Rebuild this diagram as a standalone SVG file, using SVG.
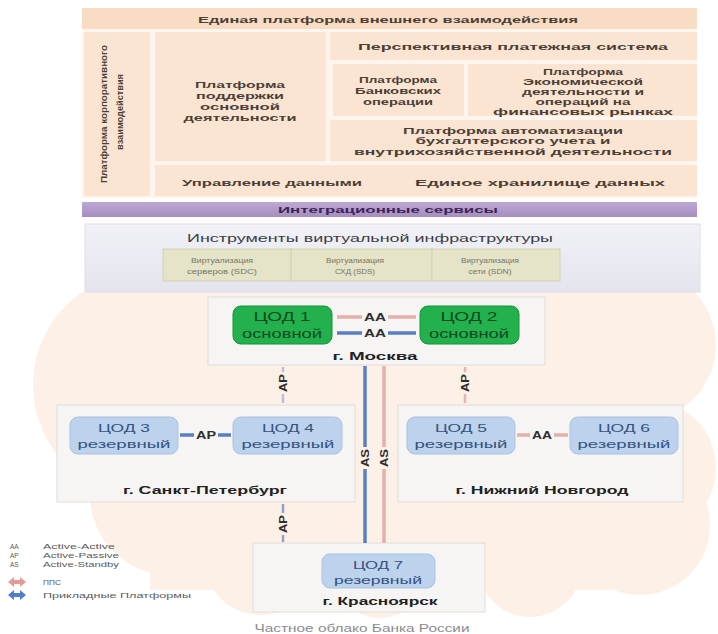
<svg xmlns="http://www.w3.org/2000/svg" width="718" height="634" viewBox="0 0 718 634">
<defs>
<style>
.t{font-family:"Liberation Sans",Arial,sans-serif;text-anchor:middle;dominant-baseline:central}
.tp{font-size:9.5px;font-weight:bold;fill:#4a3f37}
.cell{fill:#fbe4d1}
.sub{fill:#e5e3c8;stroke:#d3d1b0;stroke-width:1}
.subt{font-size:7px;fill:#77755f}
.city{fill:#f7f5f4;stroke:#e0dcd9;stroke-width:1}
.green{fill:#22b14c;stroke:#14923a;stroke-width:1}
.gt{font-size:12px;fill:#0e4a1f}
.blue{fill:#bdd2ec;stroke:#a9c1e1;stroke-width:1}
.bt{font-size:11px;fill:#34527e}
.lbl{font-size:10px;font-weight:bold;fill:#2e2e2e}
.cityt{font-size:10px;font-weight:bold;fill:#222222}
.pink{stroke:#e3b0aa;stroke-width:3.5;fill:none}
.bl{stroke:#5a7fc0;stroke-width:3.5;fill:none}
.lg{font-family:"Liberation Sans",Arial,sans-serif;font-size:6.5px;fill:#5a5a5a;dominant-baseline:central}
</style>
<linearGradient id="infra" x1="0" y1="0" x2="0" y2="1">
<stop offset="0" stop-color="#f1f1f7"/><stop offset="1" stop-color="#e4e4ee"/>
</linearGradient>
<linearGradient id="purp" x1="0" y1="0" x2="0" y2="1">
<stop offset="0" stop-color="#bda8d2"/><stop offset="1" stop-color="#a68ec0"/>
</linearGradient>
</defs>
<rect width="718" height="634" fill="#ffffff"/>

<!-- cloud -->
<g id="cloud" fill="#fdf0e6">
<circle cx="145" cy="385" r="112"/>
<circle cx="170" cy="495" r="80"/>
<circle cx="260" cy="560" r="55"/>
<circle cx="380" cy="570" r="48"/>
<circle cx="530" cy="565" r="52"/>
<circle cx="640" cy="525" r="70"/>
<circle cx="648" cy="468" r="68"/>
<circle cx="640" cy="345" r="76"/>
<circle cx="250" cy="330" r="60"/>
<rect x="150" y="288" width="510" height="302"/>
</g>

<!-- top platform panel -->
<g id="platforms">
<rect x="82" y="8" width="615" height="190" fill="#fef5ee"/>
<g id="external">
<rect x="82" y="8" width="615" height="21" fill="#f9dcc4"/>
<text class="t tp" x="388" y="19" textLength="380" lengthAdjust="spacingAndGlyphs">Единая платформа внешнего взаимодействия</text>
</g>
<g id="corporate">
<rect class="cell" x="84" y="32" width="66" height="164"/>
<text class="t tp" transform="translate(103 114) rotate(-90)" textLength="138" lengthAdjust="spacingAndGlyphs">Платформа корпоративного</text>
<text class="t tp" transform="translate(119 112) rotate(-90)" textLength="76" lengthAdjust="spacingAndGlyphs">взаимодействия</text>
</g>
<g id="core">
<rect class="cell" x="155" y="32" width="171" height="129"/>
<text class="t tp" x="240" y="84" textLength="90" lengthAdjust="spacingAndGlyphs">Платформа</text>
<text class="t tp" x="240" y="95" textLength="88" lengthAdjust="spacingAndGlyphs">поддержки</text>
<text class="t tp" x="240" y="106" textLength="80" lengthAdjust="spacingAndGlyphs">основной</text>
<text class="t tp" x="240" y="117" textLength="113" lengthAdjust="spacingAndGlyphs">деятельности</text>
</g>
<g id="payments">
<rect class="cell" x="330" y="32" width="367" height="28"/>
<text class="t tp" x="513" y="46" textLength="310" lengthAdjust="spacingAndGlyphs">Перспективная платежная система</text>
</g>
<g id="banking">
<rect class="cell" x="333" y="64" width="131" height="52"/>
<text class="t tp" x="398" y="79" textLength="78" lengthAdjust="spacingAndGlyphs">Платформа</text>
<text class="t tp" x="398" y="90" textLength="86" lengthAdjust="spacingAndGlyphs">Банковских</text>
<text class="t tp" x="398" y="101" textLength="70" lengthAdjust="spacingAndGlyphs">операции</text>
</g>
<g id="economic">
<rect class="cell" x="468" y="64" width="229" height="52"/>
<text class="t tp" x="583" y="71" textLength="80" lengthAdjust="spacingAndGlyphs">Платформа</text>
<text class="t tp" x="583" y="81" textLength="120" lengthAdjust="spacingAndGlyphs">Экономической</text>
<text class="t tp" x="583" y="91" textLength="122" lengthAdjust="spacingAndGlyphs">деятельности и</text>
<text class="t tp" x="583" y="101" textLength="95" lengthAdjust="spacingAndGlyphs">операций на</text>
<text class="t tp" x="583" y="111" textLength="180" lengthAdjust="spacingAndGlyphs">финансовых рынках</text>
</g>
<g id="accounting">
<rect class="cell" x="330" y="120" width="367" height="41"/>
<text class="t tp" x="513" y="130" textLength="220" lengthAdjust="spacingAndGlyphs">Платформа автоматизации</text>
<text class="t tp" x="513" y="140" textLength="195" lengthAdjust="spacingAndGlyphs">бухгалтерского учета и</text>
<text class="t tp" x="513" y="151" textLength="318" lengthAdjust="spacingAndGlyphs">внутрихозяйственной деятельности</text>
</g>
<g id="data">
<rect class="cell" x="155" y="165" width="542" height="31"/>
<text class="t tp" x="272" y="182" textLength="180" lengthAdjust="spacingAndGlyphs">Управление данными</text>
<text class="t tp" x="540" y="182" textLength="250" lengthAdjust="spacingAndGlyphs">Единое хранилище данных</text>
</g>
</g>

<g id="integration">
<rect x="82" y="202" width="615" height="15" fill="url(#purp)"/>
<text class="t" x="388" y="210" font-size="9" font-weight="bold" fill="#3b2457" textLength="220" lengthAdjust="spacingAndGlyphs">Интеграционные сервисы</text>
</g>

<g id="infra-tools">
<rect x="85" y="224" width="615" height="68" fill="url(#infra)" stroke="#dedee8"/>
<text class="t" x="370" y="238" font-size="11" fill="#3d3d45" textLength="366" lengthAdjust="spacingAndGlyphs">Инструменты виртуальной инфраструктуры</text>
<g id="sdc">
<rect class="sub" x="163" y="249" width="128" height="32"/>
<text class="t subt" x="222" y="260" textLength="62" lengthAdjust="spacingAndGlyphs">Виртуализация</text>
<text class="t subt" x="222" y="271" textLength="70" lengthAdjust="spacingAndGlyphs">серверов (SDC)</text>
</g>
<g id="sds">
<rect class="sub" x="291" y="249" width="141" height="32"/>
<text class="t subt" x="355" y="260" textLength="58" lengthAdjust="spacingAndGlyphs">Виртуализация</text>
<text class="t subt" x="355" y="271" textLength="40" lengthAdjust="spacingAndGlyphs">СХД (SDS)</text>
</g>
<g id="sdn">
<rect class="sub" x="432" y="249" width="128" height="32"/>
<text class="t subt" x="490" y="260" textLength="58" lengthAdjust="spacingAndGlyphs">Виртуализация</text>
<text class="t subt" x="490" y="271" textLength="43" lengthAdjust="spacingAndGlyphs">сети (SDN)</text>
</g>
</g>

<!-- city boxes -->
<g id="moscow">
<rect class="city" x="208" y="297" width="337" height="68"/>
<text class="t cityt" x="375" y="356" textLength="85" lengthAdjust="spacingAndGlyphs">г. Москва</text>
</g>
<g id="spb">
<rect class="city" x="57" y="405" width="298" height="97"/>
<text class="t cityt" x="205" y="490" textLength="164" lengthAdjust="spacingAndGlyphs">г. Санкт-Петербург</text>
</g>
<g id="nn">
<rect class="city" x="398" y="405" width="285" height="97"/>
<text class="t cityt" x="542" y="490" textLength="173" lengthAdjust="spacingAndGlyphs">г. Нижний Новгород</text>
</g>
<g id="krasnoyarsk">
<rect class="city" x="253" y="543" width="232" height="69"/>
<text class="t cityt" x="380" y="601" textLength="115" lengthAdjust="spacingAndGlyphs">г. Красноярск</text>
</g>

<!-- data centres -->
<g id="dc1">
<rect class="green" x="233" y="306" width="99" height="38" rx="8"/>
<text class="t gt" x="282" y="317" textLength="57" lengthAdjust="spacingAndGlyphs">ЦОД 1</text>
<text class="t gt" x="282" y="334" textLength="80" lengthAdjust="spacingAndGlyphs">основной</text>
</g>
<g id="dc2">
<rect class="green" x="420" y="306" width="99" height="38" rx="8"/>
<text class="t gt" x="469" y="317" textLength="57" lengthAdjust="spacingAndGlyphs">ЦОД 2</text>
<text class="t gt" x="469" y="334" textLength="80" lengthAdjust="spacingAndGlyphs">основной</text>
</g>
<g id="dc3">
<rect class="blue" x="70" y="417" width="108" height="37" rx="8"/>
<text class="t bt" x="124" y="428" textLength="52" lengthAdjust="spacingAndGlyphs">ЦОД 3</text>
<text class="t bt" x="124" y="444" textLength="93" lengthAdjust="spacingAndGlyphs">резервный</text>
</g>
<g id="dc4">
<rect class="blue" x="233" y="417" width="109" height="37" rx="8"/>
<text class="t bt" x="288" y="428" textLength="52" lengthAdjust="spacingAndGlyphs">ЦОД 4</text>
<text class="t bt" x="288" y="444" textLength="93" lengthAdjust="spacingAndGlyphs">резервный</text>
</g>
<g id="dc5">
<rect class="blue" x="407" y="417" width="108" height="37" rx="8"/>
<text class="t bt" x="461" y="428" textLength="52" lengthAdjust="spacingAndGlyphs">ЦОД 5</text>
<text class="t bt" x="461" y="444" textLength="93" lengthAdjust="spacingAndGlyphs">резервный</text>
</g>
<g id="dc6">
<rect class="blue" x="570" y="417" width="108" height="37" rx="8"/>
<text class="t bt" x="624" y="428" textLength="52" lengthAdjust="spacingAndGlyphs">ЦОД 6</text>
<text class="t bt" x="624" y="444" textLength="93" lengthAdjust="spacingAndGlyphs">резервный</text>
</g>
<g id="dc7">
<rect class="blue" x="322" y="554" width="113" height="34" rx="8"/>
<text class="t bt" x="378" y="565" textLength="50" lengthAdjust="spacingAndGlyphs">ЦОД 7</text>
<text class="t bt" x="378" y="580" textLength="88" lengthAdjust="spacingAndGlyphs">резервный</text>
</g>

<!-- connectors -->
<g id="connectors">
<path class="pink" d="M337 317H362M388 317H416"/>
<text class="t lbl" x="375" y="317" textLength="22" lengthAdjust="spacingAndGlyphs">AA</text>
<path class="bl" d="M337 333H362M388 333H416"/>
<text class="t lbl" x="375" y="333" textLength="22" lengthAdjust="spacingAndGlyphs">AA</text>

<path class="bl" d="M180 435H194M218 435H231" stroke-width="3"/>
<text class="t lbl" x="206" y="435" font-size="9" textLength="20" lengthAdjust="spacingAndGlyphs">AP</text>

<path class="pink" d="M517 435H530M554 435H568" stroke-width="3"/>
<text class="t lbl" x="542" y="435" font-size="9" textLength="20" lengthAdjust="spacingAndGlyphs">AA</text>

<path class="bl" d="M365 366V447M365 469V543" stroke-width="4"/>
<text class="t lbl" transform="translate(365 458) rotate(-90)" font-size="9" textLength="18" lengthAdjust="spacingAndGlyphs">AS</text>
<path class="pink" d="M384 366V447M384 469V543" stroke-width="4"/>
<text class="t lbl" transform="translate(384 458) rotate(-90)" font-size="9" textLength="18" lengthAdjust="spacingAndGlyphs">AS</text>

<path d="M283 367V372M283 394V403" stroke="#b9c1dc" stroke-width="2.5" fill="none"/>
<text class="t lbl" transform="translate(283 383) rotate(-90)" font-size="9" textLength="18" lengthAdjust="spacingAndGlyphs">AP</text>
<path d="M465 367V372M465 394V403" stroke="#e2b6b0" stroke-width="2.5" fill="none"/>
<text class="t lbl" transform="translate(465 383) rotate(-90)" font-size="9" textLength="18" lengthAdjust="spacingAndGlyphs">AP</text>
<path d="M283 504V513M283 535V542" stroke="#8ea3cc" stroke-width="2.5" fill="none"/>
<text class="t lbl" transform="translate(283 524) rotate(-90)" font-size="9" textLength="18" lengthAdjust="spacingAndGlyphs">AP</text>
</g>

<!-- legend -->
<g id="legend">
<text class="lg" x="10" y="546">AA</text>
<text class="lg" x="43" y="546" textLength="72" lengthAdjust="spacingAndGlyphs">Active-Active</text>
<text class="lg" x="10" y="555">AP</text>
<text class="lg" x="43" y="555" textLength="76" lengthAdjust="spacingAndGlyphs">Active-Passive</text>
<text class="lg" x="10" y="564">AS</text>
<text class="lg" x="43" y="564" textLength="76" lengthAdjust="spacingAndGlyphs">Active-Standby</text>
<path d="M8 582l6-5v3h6v-3l6 5l-6 5v-3h-6v3z" fill="#e39c96"/>
<text class="lg" x="43" y="582" textLength="18" lengthAdjust="spacingAndGlyphs">ППС</text>
<path d="M8 595l6-5v3h6v-3l6 5l-6 5v-3h-6v3z" fill="#4f7dc6"/>
<text class="lg" x="43" y="595" textLength="148" lengthAdjust="spacingAndGlyphs">Прикладные Платформы</text>
</g>

<text class="t" x="362" y="628" font-size="10" fill="#8c8c8c" textLength="215" lengthAdjust="spacingAndGlyphs">Частное облако Банка России</text>
</svg>
